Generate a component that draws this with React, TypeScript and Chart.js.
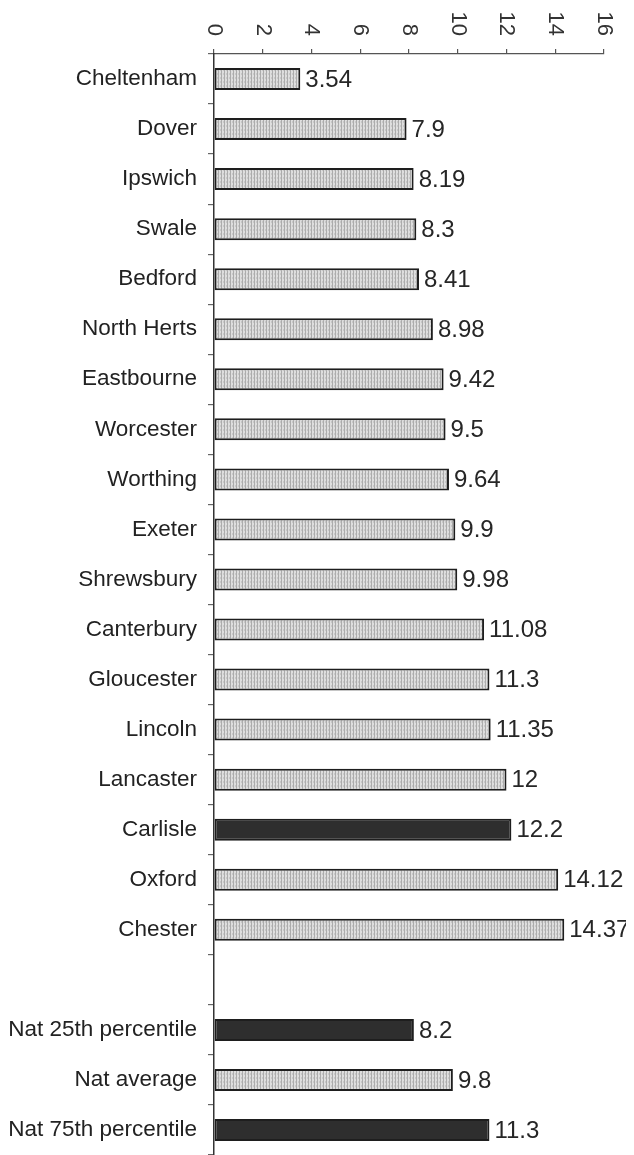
import React, { useEffect, useRef } from "react";
import { Chart, registerables } from "chart.js";

Chart.register(...registerables);

const categories: string[] = [
  "Cheltenham", "Dover", "Ipswich", "Swale", "Bedford", "North Herts", "Eastbourne",
  "Worcester", "Worthing", "Exeter", "Shrewsbury", "Canterbury", "Gloucester", "Lincoln",
  "Lancaster", "Carlisle", "Oxford", "Chester", "",
  "Nat 25th percentile", "Nat average", "Nat 75th percentile",
];
const values: (number | null)[] = [
  3.54, 7.9, 8.19, 8.3, 8.41, 8.98, 9.42, 9.5, 9.64, 9.9, 9.98, 11.08, 11.3, 11.35,
  12, 12.2, 14.12, 14.37, null, 8.2, 9.8, 11.3,
];
const valueLabels: string[] = [
  "3.54", "7.9", "8.19", "8.3", "8.41", "8.98", "9.42", "9.5", "9.64", "9.9", "9.98",
  "11.08", "11.3", "11.35", "12", "12.2", "14.12", "14.37", "", "8.2", "9.8", "11.3",
];
const darkCategories: string[] = ["Carlisle", "Nat 25th percentile", "Nat 75th percentile"];
const xTicks: number[] = [0, 2, 4, 6, 8, 10, 12, 14, 16];

const FONT = "'Liberation Sans', Arial, Helvetica, sans-serif";

function makePattern(): CanvasPattern | string {
  const c = document.createElement("canvas");
  c.width = 3;
  c.height = 4;
  const g = c.getContext("2d");
  if (!g) return "#cccccc";
  g.fillStyle = "#dedede";
  g.fillRect(0, 0, 3, 4);
  g.fillStyle = "#acacac";
  g.fillRect(0, 0, 1, 4);
  g.fillStyle = "#c8c8c8";
  g.fillRect(2, 1, 1, 2);
  const p = g.createPattern(c, "repeat");
  return p || "#cccccc";
}

export default function App() {
  const ref = useRef<HTMLCanvasElement | null>(null);

  useEffect(() => {
    if (!ref.current) return;
    const pattern = makePattern();
    const bg = categories.map((c) => (darkCategories.includes(c) ? "#2e2e2e" : pattern));

    const labelPlugin = {
      id: "customLabels",
      afterDraw(chart: any) {
        const ctx = chart.ctx as CanvasRenderingContext2D;
        const xs = chart.scales.x;
        // rotated top tick labels (clockwise)
        ctx.save();
        ctx.fillStyle = "#333333";
        ctx.font = `22px ${FONT}`;
        ctx.textAlign = "right";
        ctx.textBaseline = "middle";
        xTicks.forEach((t) => {
          const px = xs.getPixelForValue(t);
          ctx.save();
          ctx.translate(px, 28);
          ctx.rotate(Math.PI / 2);
          ctx.fillText(String(t), 0, 0);
          ctx.restore();
        });
        ctx.restore();
        // value labels
        const meta = chart.getDatasetMeta(0);
        ctx.save();
        ctx.fillStyle = "#262626";
        ctx.font = `24px ${FONT}`;
        ctx.textAlign = "left";
        ctx.textBaseline = "middle";
        meta.data.forEach((bar: any, i: number) => {
          if (values[i] == null) return;
          ctx.fillText(valueLabels[i], bar.x + 5, bar.y + 1);
        });
        ctx.restore();
      },
    };

    const chart = new Chart(ref.current, {
      type: "bar",
      data: {
        labels: categories,
        datasets: [
          {
            data: values as any,
            backgroundColor: bg as any,
            borderColor: "#1e1e1e",
            borderWidth: 2,
            borderSkipped: false,
            barPercentage: 0.44,
            categoryPercentage: 1,
          },
        ],
      },
      options: {
        indexAxis: "y",
        animation: false,
        responsive: false,
        maintainAspectRatio: false,
        layout: { padding: { top: 0, right: 22, bottom: 0, left: 0 } },
        plugins: { legend: { display: false }, tooltip: { enabled: false } },
        scales: {
          x: {
            position: "top",
            min: 0,
            max: 16,
            afterFit: (s: any) => {
              s.height = 46;
              s.paddingLeft = 0;
              s.paddingRight = 0;
            },
            afterBuildTicks: (s: any) => {
              s.ticks = xTicks.map((v) => ({ value: v }));
            },
            ticks: { display: false },
            grid: {
              drawOnChartArea: false,
              drawTicks: true,
              tickLength: 5,
              color: "#555555",
              lineWidth: 1.2,
            },
            border: { display: true, color: "#555555", width: 1.2 },
          },
          y: {
            afterFit: (s: any) => {
              s.width = 206;
              s.paddingTop = 0;
              s.paddingBottom = 0;
            },
            ticks: {
              color: "#222222",
              font: { family: FONT, size: 22.5 },
              padding: 11,
              autoSkip: false,
            },
            grid: {
              drawOnChartArea: false,
              drawTicks: true,
              tickLength: 6,
              offset: true,
              color: "#666666",
              lineWidth: 1.2,
            },
            border: { display: true, color: "#333333", width: 1.5 },
          },
        },
      },
      plugins: [labelPlugin],
    });
    return () => chart.destroy();
  }, []);

  return (
    <div style={{ width: 618, height: 1147 }}>
      <canvas ref={ref} width={618} height={1147} style={{ display: "block" }} />
    </div>
  );
}
